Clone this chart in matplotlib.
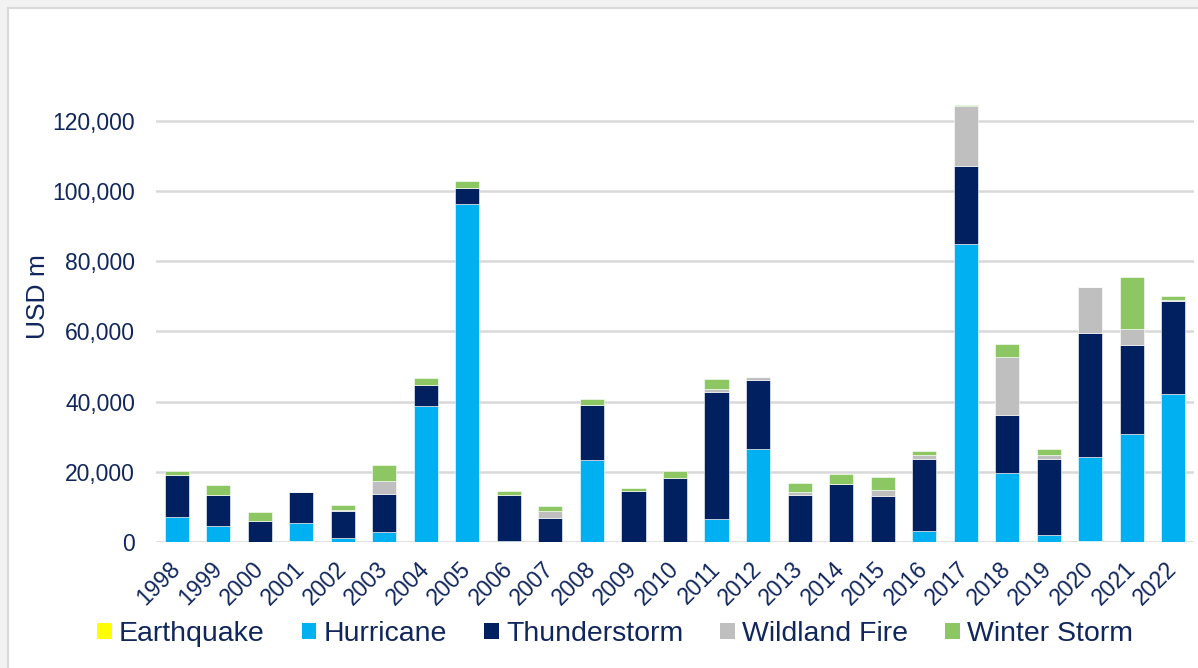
import matplotlib
matplotlib.use("Agg")
import matplotlib.pyplot as plt
import numpy as np
from matplotlib.patches import Rectangle
from matplotlib.ticker import FuncFormatter

years = [str(y) for y in range(1998, 2023)]

earthquake = [0, 0, 0, 400, 0, 0, 0, 0, 0, 0, 0, 0, 0, 0, 0, 0, 0, 0, 0, 0, 0, 0, 300, 0, 0]
hurricane = [7000, 4500, 100, 5000, 1100, 2900, 38800, 96200, 200, 100, 23300, 0, 0,
             6500, 26400, 0, 0, 0, 3200, 84900, 19600, 2000, 23800, 30700, 42100]
thunderstorm = [12100, 9000, 6000, 8800, 7800, 10900, 5800, 4600, 13100, 6600, 15800, 14500, 18300,
                36300, 19700, 13500, 16400, 13100, 20400, 22100, 16600, 21600, 35300, 25400, 26500]
wildland_fire = [0, 0, 0, 0, 300, 3600, 0, 0, 0, 2200, 0, 0, 0,
                 800, 800, 700, 200, 1600, 1300, 17300, 16500, 1100, 13100, 4600, 300]
winter_storm = [1200, 2700, 2500, 0, 1200, 4600, 2000, 1900, 1300, 1400, 1600, 900, 2000,
                2700, 0, 2500, 2800, 3800, 900, 300, 3600, 1900, 0, 14700, 1200]

series = [
    ("Earthquake", earthquake, "#FFFF00"),
    ("Hurricane", hurricane, "#00B0F0"),
    ("Thunderstorm", thunderstorm, "#002060"),
    ("Wildland Fire", wildland_fire, "#BFBFBF"),
    ("Winter Storm", winter_storm, "#8DC763"),
]

TEXT = "#10265C"
plt.rcParams["font.family"] = ["Liberation Sans", "DejaVu Sans"]

W, H = 1198, 668
fig = plt.figure(figsize=(W / 100, H / 100), dpi=100)
fig.patch.set_facecolor("#F2F2F2")

# white chart panel with a light frame
panel = Rectangle((8 / W, -0.01), 1.02, (H - 8) / H + 0.01, transform=fig.transFigure,
                  facecolor="white", edgecolor="#D9D9D9", linewidth=1.5, zorder=-10)
fig.patches.append(panel)

ax = fig.add_axes([156 / W, 126 / H, (1194 - 156) / W, (600 - 126) / H])
ax.set_facecolor("none")
ax.set_zorder(1)

x = np.arange(len(years))
bottom = np.zeros(len(years))
for name, vals, color in series:
    v = np.array(vals, dtype=float)
    ax.bar(x, v, width=0.58, bottom=bottom, color=color, label=name,
           edgecolor="white", linewidth=0.4, zorder=3)
    bottom += v

ax.set_xlim(-0.5, len(years) - 0.5)
ax.set_ylim(0, 135000)
ax.set_yticks(np.arange(0, 120001, 20000))
ax.yaxis.set_major_formatter(FuncFormatter(lambda v, p: f"{int(v):,}"))
ax.grid(axis="y", color="#D9D9D9", linewidth=1.8, zorder=0)
for s in ax.spines.values():
    s.set_visible(False)

ax.tick_params(axis="y", length=0, pad=15, labelsize=16.5, labelcolor=TEXT)
ax.tick_params(axis="x", length=0, pad=17, labelsize=16.5, labelcolor=TEXT)
ax.set_xticks(x)
ax.set_xticklabels(years, rotation=45, ha="right", va="center", rotation_mode="anchor")

fig.text(38 / W, 1 - 297 / H, "USD m", rotation=90, ha="center", va="center",
         fontsize=19, color=TEXT)

leg = fig.legend(loc="center", bbox_to_anchor=(615 / W, 1 - 634 / H), ncol=5, frameon=False,
                 fontsize=20.5, handlelength=0.52, handleheight=0.52, handletextpad=0.25,
                 columnspacing=1.3, borderaxespad=0)
for t in leg.get_texts():
    t.set_color(TEXT)
for h in leg.legend_handles:
    h.set_linewidth(0)

fig.savefig("out.png", dpi=100, facecolor=fig.get_facecolor())
